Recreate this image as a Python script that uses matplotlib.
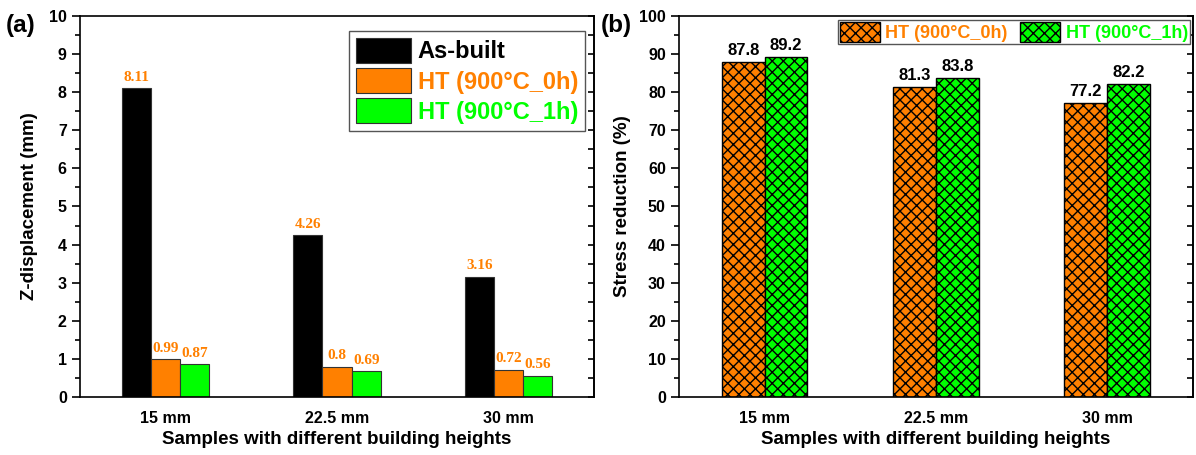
import matplotlib.pyplot as plt
import numpy as np
from matplotlib.ticker import MultipleLocator

plt.rcParams['font.family'] = ['Liberation Sans', 'DejaVu Sans']
plt.rcParams['font.weight'] = 'bold'
plt.rcParams['axes.labelweight'] = 'bold'
plt.rcParams['hatch.linewidth'] = 1.0

heights = ['15 mm', '22.5 mm', '30 mm']
as_built = [8.11, 4.26, 3.16]
ht_0h = [0.99, 0.8, 0.72]
ht_1h = [0.87, 0.69, 0.56]
red_0h = [87.8, 81.3, 77.2]
red_1h = [89.2, 83.8, 82.2]

orange = '#FF8000'
green = '#00FF00'

fig = plt.figure(figsize=(11.96, 4.55), dpi=100)
ax1 = fig.add_axes([0.0669, 0.1275, 0.4298, 0.8374])
ax2 = fig.add_axes([0.5677, 0.1275, 0.4298, 0.8374])

x = np.arange(1, len(heights) + 1)


def style_axis(ax, major, minor, top):
    ax.set_xlim(0.5, 3.5)
    ax.set_ylim(0, top)
    ax.yaxis.set_major_locator(MultipleLocator(major))
    ax.yaxis.set_minor_locator(MultipleLocator(minor))
    ax.tick_params(axis='y', which='major', direction='out', length=6, width=1.2,
                   labelsize=11.5)
    ax.tick_params(axis='y', which='minor', direction='out', length=3.5, width=1.2)
    ax.tick_params(axis='x', length=0, labelsize=11.5, pad=10)
    for sp in ax.spines.values():
        sp.set_linewidth(1.2)
    ax.set_xticks(x)
    ax.set_xticklabels(heights)
    ax.set_xlabel('Samples with different building heights', fontsize=13.5,
                  fontweight='bold', labelpad=4)
    for lab in ax.get_yticklabels() + ax.get_xticklabels():
        lab.set_fontweight('bold')
    # inward ticks on the right-hand frame
    sec = ax.secondary_yaxis('right')
    sec.yaxis.set_major_locator(MultipleLocator(major))
    sec.yaxis.set_minor_locator(MultipleLocator(minor))
    sec.tick_params(which='both', direction='in', length=4, width=1.2, labelright=False)
    sec.spines['right'].set_linewidth(1.2)


# (a) Z-displacement
w1 = 0.17
b0 = ax1.bar(x - w1, as_built, w1, color='black', edgecolor='#333333', linewidth=0.8,
             label='As-built')
b1 = ax1.bar(x, ht_0h, w1, color=orange, edgecolor='#333333', linewidth=0.8,
             label='HT (900°C_0h)')
b2 = ax1.bar(x + w1, ht_1h, w1, color=green, edgecolor='#333333', linewidth=0.8,
             label='HT (900°C_1h)')
for bars, vals in [(b0, as_built), (b1, ht_0h), (b2, ht_1h)]:
    for rect, v in zip(bars, vals):
        ax1.annotate(f'{v:g}', (rect.get_x() + rect.get_width() / 2, v),
                     xytext=(0, 3), textcoords='offset points', ha='center', va='bottom',
                     color=orange, fontsize=11, fontweight='bold',
                     family=['Liberation Serif'])
style_axis(ax1, 1, 0.5, 10)
ax1.set_ylabel('Z-displacement (mm)', fontsize=13.5, fontweight='bold', labelpad=8)
leg1 = ax1.legend(loc='upper right', bbox_to_anchor=(0.9825, 0.9606), borderaxespad=0,
                  fontsize=17, handlelength=2.3, handleheight=1.25, handletextpad=0.3,
                  labelspacing=0.2, borderpad=0.3, fancybox=False, framealpha=1,
                  edgecolor='#555555')
leg1.get_frame().set_linewidth(1.0)
for txt, c in zip(leg1.get_texts(), ['black', orange, green]):
    txt.set_color(c)
    txt.set_fontweight('bold')

# (b) Stress reduction
w2 = 0.25
r1 = ax2.bar(x - w2 / 2, red_0h, w2, color=orange, edgecolor='black', linewidth=1.0,
             hatch='xxx', label='HT (900°C_0h)')
r2 = ax2.bar(x + w2 / 2, red_1h, w2, color=green, edgecolor='black', linewidth=1.0,
             hatch='xxx', label='HT (900°C_1h)')
for bars, vals in [(r1, red_0h), (r2, red_1h)]:
    for rect, v in zip(bars, vals):
        ax2.annotate(f'{v:g}', (rect.get_x() + rect.get_width() / 2, v),
                     xytext=(0, 3), textcoords='offset points', ha='center', va='bottom',
                     color='black', fontsize=12, fontweight='bold')
style_axis(ax2, 10, 5, 100)
ax2.set_ylabel('Stress reduction (%)', fontsize=13.5, fontweight='bold', labelpad=6)
leg2 = ax2.legend(loc='upper right', bbox_to_anchor=(0.994, 0.99), borderaxespad=0,
                  ncol=2, fontsize=13, handlelength=2.2, handleheight=1.3,
                  handletextpad=0.3, columnspacing=0.7, borderpad=0.12,
                  fancybox=False, framealpha=1, edgecolor='#555555')
leg2.get_frame().set_linewidth(1.0)
for txt, c in zip(leg2.get_texts(), [orange, green]):
    txt.set_color(c)
    txt.set_fontweight('bold')

fig.text(0.005, 0.943, '(a)', fontsize=17.5, fontweight='bold', va='center')
fig.text(0.502, 0.943, '(b)', fontsize=17.5, fontweight='bold', va='center')

fig.savefig('out.png', dpi=100)
